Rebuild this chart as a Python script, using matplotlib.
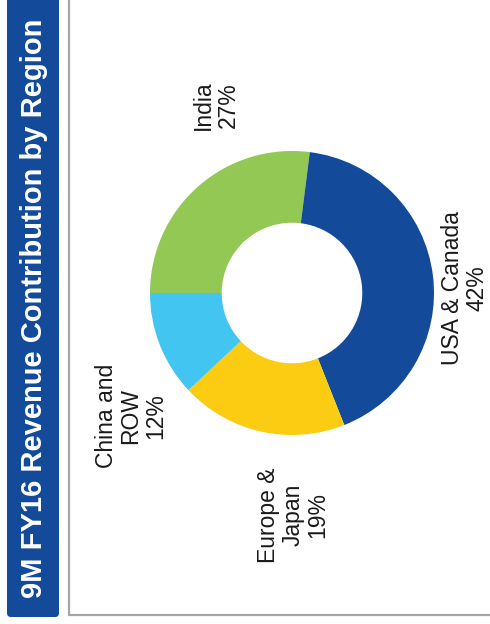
"""Donut chart: 9M FY16 revenue contribution by region (rotated slide layout)."""

import matplotlib

matplotlib.use("Agg")
import matplotlib.pyplot as plt
from matplotlib.patches import FancyBboxPatch

plt.rcParams["font.family"] = ["Liberation Sans", "DejaVu Sans"]

# data, clockwise from the 9 o'clock position
regions = ["India", "USA & Canada", "Europe &\nJapan", "China and\nROW"]
shares = [27, 42, 19, 12]
colours = ["#92c853", "#134a9a", "#fccc12", "#42c5f0"]
title = "9M FY16 Revenue Contribution by Region"

W, H = 490, 624
fig = plt.figure(figsize=(W / 100, H / 100), dpi=100)

# background layer in pixel coordinates (origin top-left)
bg = fig.add_axes([0, 0, 1, 1], zorder=0)
bg.set_xlim(0, W)
bg.set_ylim(H, 0)
bg.axis("off")

bar = FancyBboxPatch((7, -10), 52, 627, boxstyle="round,pad=0,rounding_size=4",
                     facecolor="#134a9a", edgecolor="none")
bg.add_patch(bar)
bg.text(34, 308, title, rotation=90, ha="center", va="center",
        color="white", fontsize=21, fontweight="bold")

# thin grey frame of the content panel
bg.plot([69, 69, W + 5], [-5, 615, 615], color="#a6a6a6", lw=1.6,
        solid_joinstyle="miter")

# donut: centre at (292, 293) px, outer radius 142 px
cx, cy, r = 292, 293, 142
ax = fig.add_axes([(cx - r) / W, (H - cy - r) / H, 2 * r / W, 2 * r / H], zorder=1)
ax.pie(shares, colors=colours, startangle=180, counterclock=False,
       wedgeprops=dict(width=0.505, linewidth=0))
ax.set_xlim(-1, 1)
ax.set_ylim(-1, 1)
ax.set_aspect("equal")
ax.axis("off")

# label anchors in pie units (x right, y up)
label_pos = [(-0.535, 1.324), (1.215, 0.035), (0.007, -1.563), (-1.134, -0.866)]
for name, share, (lx, ly) in zip(regions, shares, label_pos):
    ax.text(lx, ly, f"{name}\n{share}%", rotation=90, ha="center", va="center",
            multialignment="center", fontsize=16.5, color="#1a1a1a",
            linespacing=1.1, clip_on=False)

fig.savefig("out.png", dpi=100)
